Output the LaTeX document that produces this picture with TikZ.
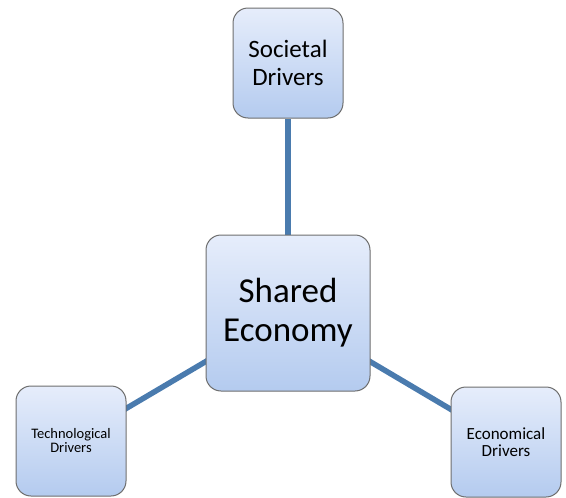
\documentclass[tikz,border=0pt]{standalone}
\usepackage{fontspec}
\setmainfont{Carlito}
\usetikzlibrary{backgrounds}
\definecolor{linkblue}{HTML}{4A7BAE}
\definecolor{boxtop}{HTML}{E6EDFB}
\definecolor{boxbottom}{HTML}{B4CBEF}
\definecolor{boxedge}{HTML}{6E6E6E}

\begin{document}
\begin{tikzpicture}[x=1pt, y=-1pt,
    driver/.style={draw=boxedge, line width=1pt, rounded corners=15pt,
      top color=boxtop, bottom color=boxbottom, align=center,
      inner sep=0pt, minimum width=110pt, minimum height=110pt},
    link/.style={draw=linkblue, line width=5.5pt}]
  \useasboundingbox (0,0) rectangle (566,498);
  % hub in the middle
  \node[driver, minimum width=164pt, minimum height=156pt,
    font=\fontsize{35}{39}\selectfont] (shared) at (288,313) {Shared\\Economy};
  % three drivers round it
  \node[driver, font=\fontsize{25}{28}\selectfont] (societal) at (288,63)
    {Societal\\Drivers};
  \node[driver, font=\fontsize{14.5}{14}\selectfont] (techno) at (71,441)
    {Technological\\Drivers};
  \node[driver, font=\fontsize{17}{17}\selectfont] (econom) at (506,442)
    {Economical\\Drivers};
  \begin{scope}[on background layer]
    \draw[link] (shared) -- (societal);
    \draw[link] (shared.center) -- (techno.center);
    \draw[link] (shared.center) -- (econom.center);
  \end{scope}
\end{tikzpicture}
\end{document}
